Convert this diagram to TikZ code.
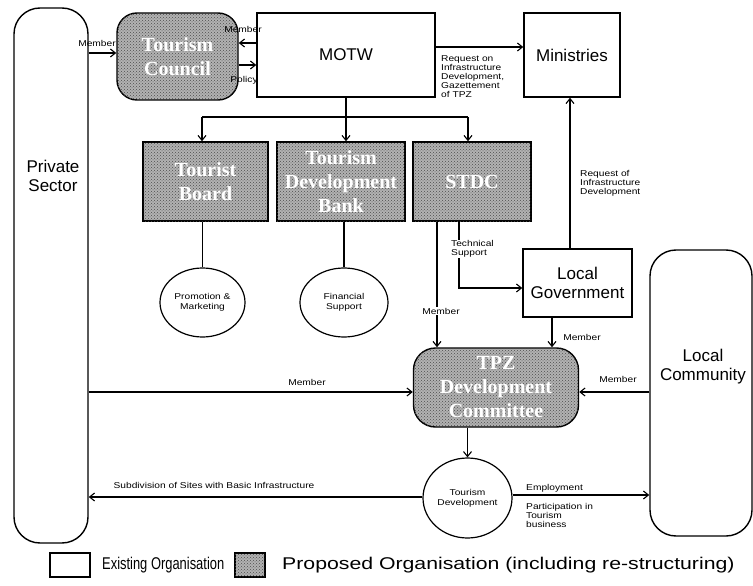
\documentclass[tikz,border=0pt]{standalone}
\usepackage{fontspec}
\setmainfont{Liberation Sans}
\newfontfamily\labf[FakeStretch=1.2]{Liberation Sans}
\newfontfamily\legA[FakeStretch=0.76]{Liberation Sans}
\newfontfamily\legB[FakeStretch=1.25]{Liberation Sans}
\newfontfamily\propf{Liberation Serif}
\usetikzlibrary{shapes.geometric,patterns,arrows.meta}
\begin{document}
\begin{tikzpicture}[x=1pt,y=-1pt,
  exist/.style={draw, line width=1.4pt, fill=white, align=center, inner sep=0pt,
    font=\fontsize{17}{19}\selectfont},
  bigtxt/.style={align=center, inner sep=0pt, font=\fontsize{17}{19}\selectfont},
  prop/.style={draw, line width=1.4pt, fill=gray!60,
    postaction={pattern=crosshatch dots, pattern color=black!70},
    text=white, align=center, inner sep=0pt,
    font=\propf\bfseries\fontsize{20}{24}\selectfont},
  circ/.style={ellipse, draw, line width=1.2pt, fill=white, align=center, inner sep=0pt,
    font=\labf\fontsize{8.5}{10}\selectfont},
  conn/.style={line width=1.1pt},
  arr/.style={conn, -{Straight Barb[length=5pt,width=8pt]}},
  lbl/.style={font=\labf\fontsize{8.5}{9}\selectfont, align=left, inner sep=1pt},
  lblw/.style={lbl, fill=white},
  legtxt/.style={anchor=west, inner sep=0pt}
]
\useasboundingbox (0,0) rectangle (753,586);

% nodes
\node[exist, rounded corners=26pt, minimum width=74pt, minimum height=535pt] (ps) at (51,275.5) {};
\node[bigtxt] (pstext) at (53,176) {Private\\Sector};
\node[prop, rounded corners=20pt, minimum width=121pt, minimum height=87pt] (tc) at (177.5,56.5) {Tourism\\Council};
\node[exist, minimum width=178pt, minimum height=84pt] (motw) at (346,55) {MOTW};
\node[exist, minimum width=96pt, minimum height=84pt] (min) at (572,55) {Ministries};
\node[prop, minimum width=125pt, minimum height=79pt] (tb) at (205.5,181.5) {Tourist\\Board};
\node[prop, minimum width=128pt, minimum height=79pt] (tdb) at (341,181.5) {Tourism\\Development\\Bank};
\node[prop, minimum width=118pt, minimum height=79pt] (stdc) at (472,181.5) {STDC};
\node[circ, minimum width=85pt, minimum height=69pt] (pm) at (202.5,302.5) {Promotion \&\\Marketing};
\node[circ, minimum width=88pt, minimum height=69pt] (fs) at (344,302.5) {Financial\\Support};
\node[exist, minimum width=109pt, minimum height=68pt] (lg) at (577.5,283) {Local\\Government};
\node[prop, rounded corners=22pt, minimum width=165pt, minimum height=79pt] (tpz) at (496,387.5) {TPZ\\Development\\Committee};
\node[circ, minimum width=89pt, minimum height=80pt] (td) at (467.5,498) {Tourism\\Development};
\node[exist, rounded corners=26pt, minimum width=102pt, minimum height=286pt] (lc) at (701,393) {};
\node[bigtxt] (lctext) at (703,367) {Local\\Community};

% top connectors
\draw[arr] (ps.east |- 0,53) -- ([yshift=3.5pt]tc.west);
\node[lbl] (l1) at (97,43) {Member};
\draw[arr] (motw.west |- 0,43) -- (tc.east |- 0,43);
\node[lbl] (l2) at (243,29) {Member};
\draw[arr] (tc.east |- 0,65) -- (motw.west |- 0,65);
\node[lbl] (l3) at (244,80) {Policy};
\draw[arr] (motw.east |- 0,47) -- (min.west |- 0,47);
\node[lbl, anchor=north west, inner sep=0pt] (l4) at (441,55) {Request on\\Infrastructure\\Development,\\Gazettement\\of TPZ};

% distribution from MOTW
\coordinate (jl) at (202,117);
\coordinate (jr) at (468,117);
\draw[conn] (jl) -- (jr);
\draw[arr] (motw.south) -- (motw.south |- tdb.north);
\draw[arr] (jl) -- (jl |- tb.north);
\draw[arr] (jr) -- (jr |- stdc.north);

% to circles
\draw[conn] (pm.north |- tb.south) -- (pm.north);
\draw[conn] (fs.north |- tdb.south) -- (fs.north);

% STDC
\coordinate (sm) at (437,0);
\draw[arr] (sm |- stdc.south) -- (sm |- tpz.north);
\node[lblw] (l5) at (441,311) {Member};
\coordinate (st) at (459,0);
\draw[arr] (st |- stdc.south) |- ([yshift=-5pt]lg.west);
\node[lblw, anchor=west] (l6) at (450,249) {Technical\\Support};

% Local government
\coordinate (lgx) at (570,0);
\draw[arr] (lgx |- lg.north) -- (lgx |- min.south);
\node[lbl, anchor=west, inner sep=0pt] (l7) at (580,183) {Request of\\Infrastructure\\Development};
\coordinate (lgm) at (552,0);
\draw[arr] (lgm |- lg.south) -- (lgm |- tpz.north);
\node[lbl] (l8) at (582,337) {Member};

% TPZ
\draw[arr] (ps.east |- 0,392) -- (tpz.west |- 0,392);
\node[lbl] (l9) at (307,382) {Member};
\draw[arr] (lc.west |- 0,392) -- (tpz.east |- 0,392);
\node[lbl] (l10) at (618,379) {Member};
\draw[arr] (tpz.south -| td.north) -- (td.north);

% Tourism Development
\draw[arr] (td.west |- 0,497) -- (ps.east |- 0,497);
\node[lbl] (l11) at (214,485) {Subdivision of Sites with Basic Infrastructure};
\draw[arr] (td.east |- 0,495) -- (lc.west |- 0,495);
\node[lbl, anchor=west] (l12) at (525,488) {Employment};
\node[lbl, anchor=north west, inner sep=0pt] (l13) at (526,503) {Participation in\\Tourism\\business};

% legend
\node[exist, minimum width=40pt, minimum height=24pt] (leg1) at (70,565) {};
\node[legtxt, font=\legA\fontsize{17}{19}\selectfont] (leg1t) at (102,565) {Existing Organisation};
\node[prop, minimum width=30pt, minimum height=24pt] (leg2) at (250,565) {};
\node[legtxt, font=\legB\fontsize{17}{19}\selectfont] (leg2t) at (282,565) {Proposed Organisation (including re-structuring)};
\end{tikzpicture}
\end{document}
